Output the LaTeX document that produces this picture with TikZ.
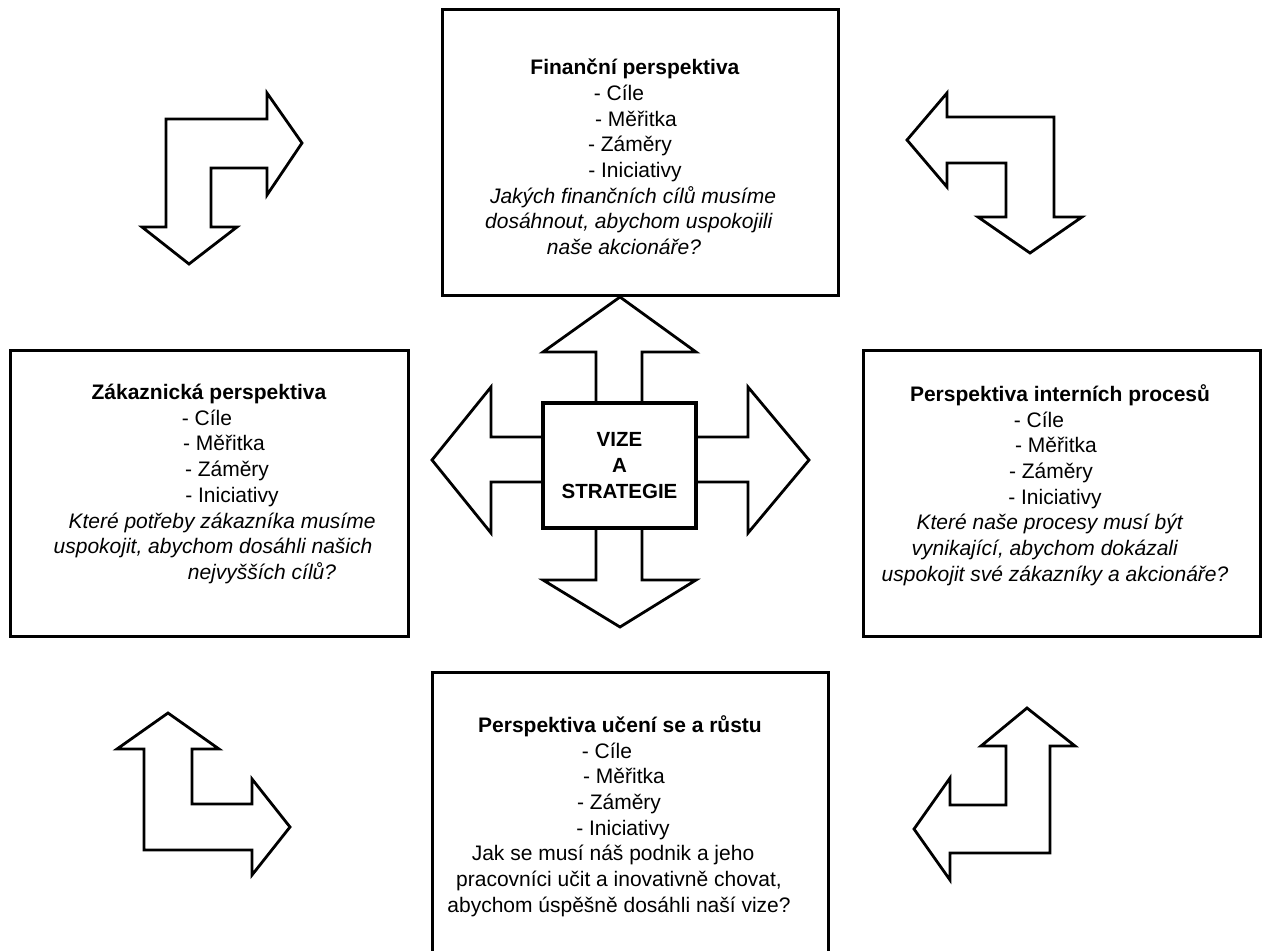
\documentclass[tikz,border=0pt]{standalone}
\usepackage{fontspec}
\setmainfont{Liberation Sans}
\newcommand\mv[2]{\hspace*{#1pt}\hspace*{#1pt}#2}
\tikzset{
  box/.style={draw, line width=3pt, fill=white, inner sep=0pt, outer sep=0pt, rectangle},
  blockarrow/.style={draw, line width=2.8pt, fill=white, line join=miter},
  txt/.style={align=center, font=\fontsize{21}{25.7}\selectfont, inner sep=0pt},
}
\begin{document}
\begin{tikzpicture}[x=1pt, y=-1pt]
\useasboundingbox (0,0) rectangle (1265,950);
\clip (0,0) rectangle (1265,950);
\fill[white] (0,0) rectangle (1265,950);

% corner arrows
\draw[blockarrow] (166,119) -- (267,119) -- (267,93) -- (302,143) -- (267,195) -- (267,168)
  -- (211,168) -- (211,227) -- (237,227) -- (189,264) -- (142,227) -- (166,227) -- cycle;
\draw[blockarrow] (907,140) -- (947,93) -- (947,117) -- (1054,117) -- (1054,217) -- (1082,217)
  -- (1030,253) -- (978,217) -- (1006,217) -- (1006,163) -- (947,163) -- (947,187) -- cycle;
\draw[blockarrow] (168,713) -- (219,749) -- (192,749) -- (192,804) -- (252,804) -- (252,779)
  -- (290,827) -- (252,875) -- (252,850) -- (144,850) -- (144,749) -- (117,749) -- cycle;
\draw[blockarrow] (1027,708) -- (1075,746) -- (1050,746) -- (1050,853) -- (950,853) -- (950,880)
  -- (914,829) -- (950,778) -- (950,805) -- (1006,805) -- (1006,746) -- (981,746) -- cycle;

% cross arrows around the centre
\draw[blockarrow] (596,410) -- (596,352) -- (543,352) -- (620,297) -- (696,352) -- (642,352) -- (642,410);
\draw[blockarrow] (550,437) -- (491,437) -- (491,387) -- (432,460) -- (491,533) -- (491,482) -- (550,482);
\draw[blockarrow] (690,437) -- (748,437) -- (748,387) -- (809,460) -- (748,533) -- (748,482) -- (690,482);
\draw[blockarrow] (596,520) -- (596,580) -- (543,580) -- (620,627) -- (696,580) -- (642,580) -- (642,520);

% boxes
\node[box, minimum width=396pt, minimum height=285pt] (fin) at (640,152.5) {};
\node[box, minimum width=398pt, minimum height=286pt] (cust) at (209,493) {};
\node[box, minimum width=397pt, minimum height=286pt] (int) at (1061.5,493) {};
\node[box, minimum width=396pt, minimum height=300pt] (learn) at (630,822) {};
\node[box, line width=3.5pt, minimum width=153pt, minimum height=125pt,
      align=center, font=\fontsize{20.5}{26}\selectfont\bfseries] (vize) at (619.5,465.5)
      {VIZE\\A\\STRATEGIE};

% texts
\node[txt] (fintxt) at (640,157) {%
  \mv{-5}{\textbf{Finanční perspektiva}}\\
  \mv{-21}{- Cíle}\\
  \mv{-4}{- Měřitka}\\
  \mv{-10}{- Záměry}\\
  \mv{-5}{- Iniciativy}\\
  \mv{-7}{\textit{Jakých finančních cílů musíme}}\\
  \mv{-11}{\textit{dosáhnout, abychom uspokojili}}\\
  \mv{-16}{\textit{naše akcionáře?}}};

\node[txt] (custtxt) at (209,484) {%
  \mv{0}{\textbf{Zákaznická perspektiva}}\\
  \mv{-2}{- Cíle}\\
  \mv{15}{- Měřitka}\\
  \mv{18}{- Záměry}\\
  \mv{23}{- Iniciativy}\\
  \mv{13}{\textit{Které potřeby zákazníka musíme}}\\
  \mv{4}{\textit{uspokojit, abychom dosáhli našich}}\\
  \mv{53}{\textit{nejvyšších cílů?}}};

\node[txt] (inttxt) at (1061,485) {%
  \mv{-1}{\textbf{Perspektiva interních procesů}}\\
  \mv{-22}{- Cíle}\\
  \mv{-5}{- Měřitka}\\
  \mv{-10}{- Záměry}\\
  \mv{-6}{- Iniciativy}\\
  \mv{-11}{\textit{Které naše procesy musí být}}\\
  \mv{-16}{\textit{vynikající, abychom dokázali}}\\
  \mv{-6}{\textit{uspokojit své zákazníky a akcionáře?}}};

\node[txt] (learntxt) at (630,816) {%
  \mv{-10}{\textbf{Perspektiva učení se a růstu}}\\
  \mv{-23}{- Cíle}\\
  \mv{-6}{- Měřitka}\\
  \mv{-11}{- Záměry}\\
  \mv{-7}{- Iniciativy}\\
  \mv{-17}{Jak se musí náš podnik a jeho}\\
  \mv{-11}{pracovníci učit a inovativně chovat,}\\
  \mv{-11}{abychom úspěšně dosáhli naší vize?}};
\end{tikzpicture}
\end{document}
